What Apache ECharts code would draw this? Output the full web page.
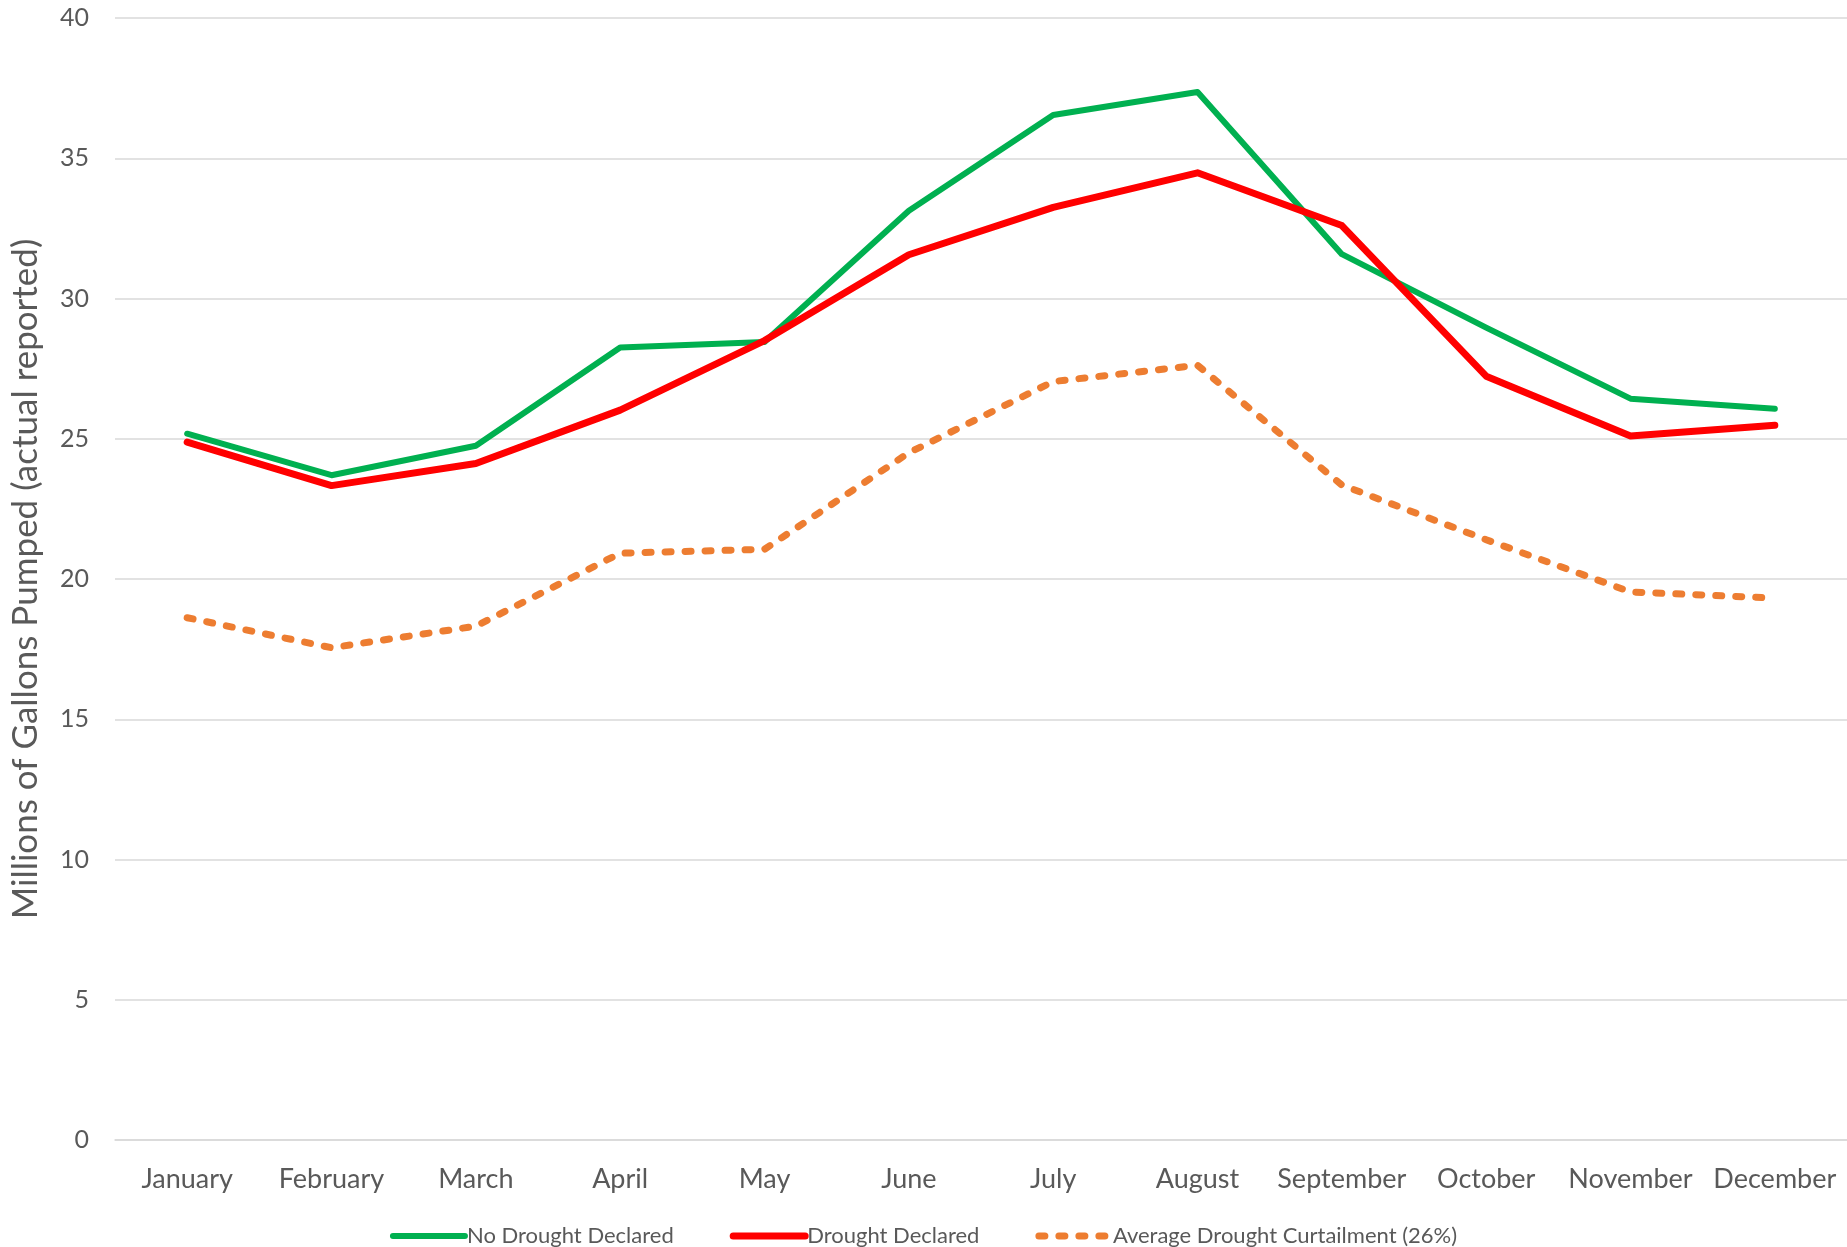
<!DOCTYPE html>
<html>
<head>
<meta charset="utf-8">
<script src="https://cdn.jsdelivr.net/npm/echarts@6/dist/echarts.min.js"></script>
<style>
  html, body { margin: 0; padding: 0; background: #ffffff; }
  #chart { width: 1847px; height: 1247px; }
</style>
</head>
<body>
<div id="chart"></div>
<script>
// Monthly pumping volumes, millions of gallons
const months = ['January', 'February', 'March', 'April', 'May', 'June',
                'July', 'August', 'September', 'October', 'November', 'December'];
const noDrought = [25.18, 23.7, 24.75, 28.25, 28.45, 33.13, 36.54, 37.36, 31.58, 28.96, 26.43, 26.07];
const droughtDeclared = [24.88, 23.33, 24.12, 26.02, 28.5, 31.56, 33.25, 34.48, 32.6, 27.23, 25.1, 25.48];
const curtailment = [18.62, 17.55, 18.32, 20.92, 21.06, 24.5, 27.04, 27.62, 23.35, 21.4, 19.54, 19.32];
const seriesNames = ['No Drought Declared', 'Drought Declared', 'Average Drought Curtailment (26%)'];
const yTicks = { min: 0, max: 40, interval: 5 };

const FONT = 'Lato, "Liberation Sans", sans-serif';
const TEXT = '#595959';

const chart = echarts.init(document.getElementById('chart'), null, { renderer: 'canvas' });

chart.setOption({
  animation: false,
  backgroundColor: '#ffffff',
  grid: { left: 115, right: 0, top: 18, bottom: 107, containLabel: false },
  legend: {
    top: 1220,
    left: 'center',
    itemWidth: 72,
    itemHeight: 14,
    itemGap: 56,
    itemStyle: { opacity: 0 },
    lineStyle: { width: 'inherit', type: 'inherit', cap: 'round' },
    textStyle: { fontFamily: FONT, fontSize: 22, color: TEXT, padding: [0, 0, 0, -3] },
    data: seriesNames
  },
  xAxis: {
    type: 'category',
    data: months,
    boundaryGap: true,
    axisLine: { show: true, lineStyle: { color: '#D9D9D9', width: 1.5 } },
    axisTick: { show: false },
    axisLabel: { fontFamily: FONT, fontSize: 27, color: TEXT, margin: 26, interval: 0 },
    splitLine: { show: false }
  },
  yAxis: {
    type: 'value',
    min: yTicks.min,
    max: yTicks.max,
    interval: yTicks.interval,
    name: 'Millions of Gallons Pumped (actual reported)',
    nameLocation: 'middle',
    nameGap: 72,
    nameRotate: 90,
    nameTextStyle: { fontFamily: FONT, fontSize: 35, color: TEXT },
    axisLine: { show: false },
    axisTick: { show: false },
    axisLabel: { fontFamily: FONT, fontSize: 25, color: TEXT, margin: 26 },
    splitLine: { show: true, lineStyle: { color: '#D9D9D9', width: 1.5 } }
  },
  series: [
    {
      name: seriesNames[0],
      type: 'line',
      data: noDrought,
      symbol: 'none',
      color: '#00B050',
      lineStyle: { color: '#00B050', width: 6, cap: 'round', join: 'round' }
    },
    {
      name: seriesNames[1],
      type: 'line',
      data: droughtDeclared,
      symbol: 'none',
      color: '#FF0000',
      lineStyle: { color: '#FF0000', width: 7, cap: 'round', join: 'round' }
    },
    {
      name: seriesNames[2],
      type: 'line',
      data: curtailment,
      symbol: 'none',
      color: '#ED7D31',
      lineStyle: { color: '#ED7D31', width: 7, type: [6, 14], cap: 'round', join: 'round' }
    }
  ]
});
</script>
</body>
</html>
